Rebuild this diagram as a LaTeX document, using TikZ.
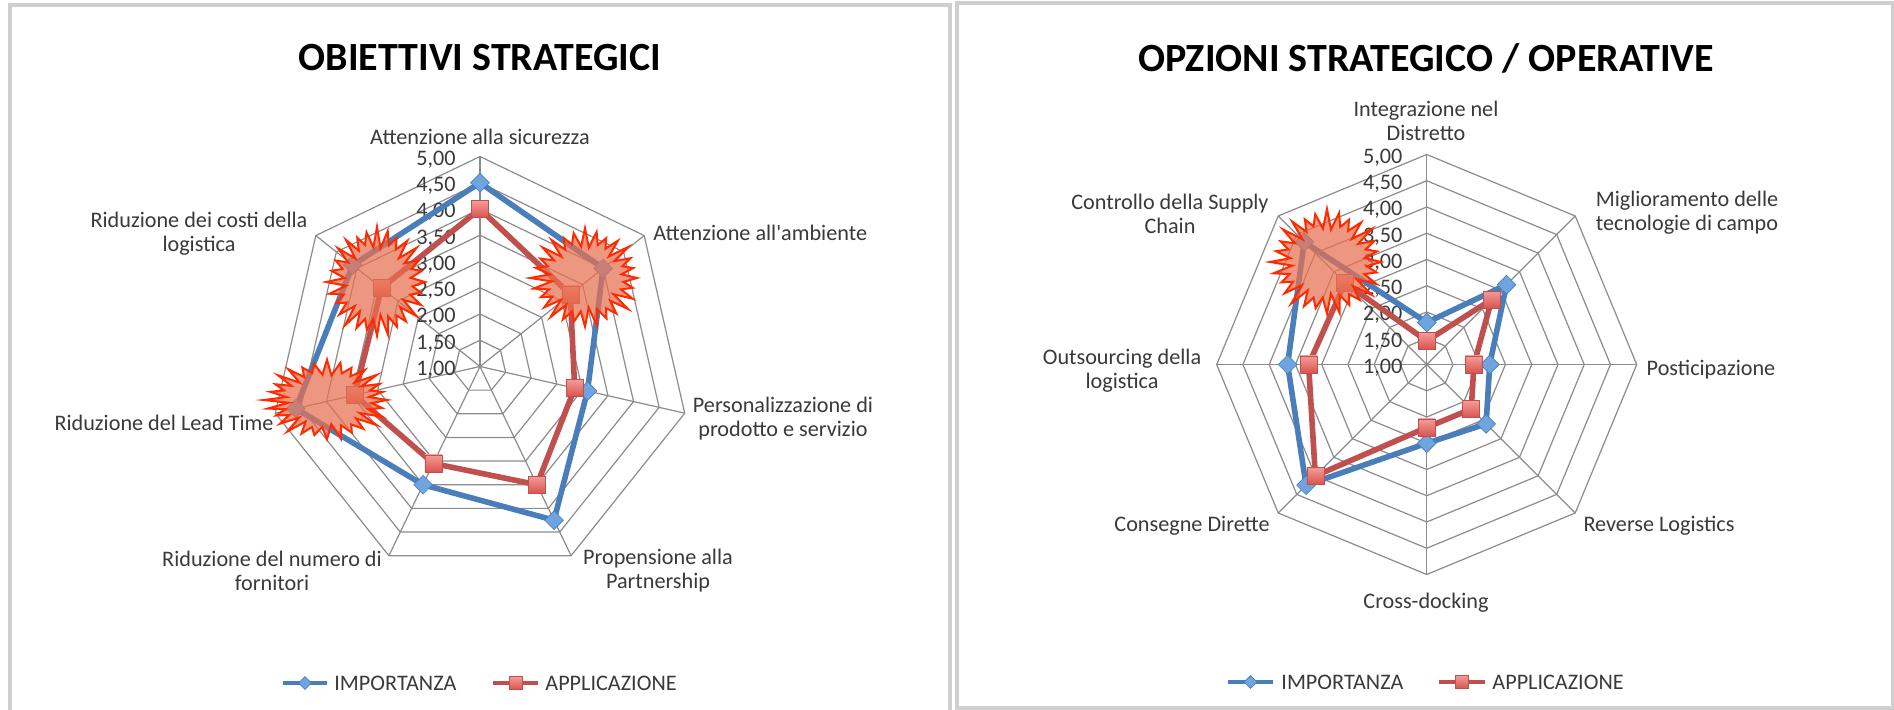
\documentclass[tikz,border=0pt]{standalone}
\usepackage{fontspec}
\newfontfamily\calibrifont{Carlito}
\usetikzlibrary{calc,shapes.geometric}

\definecolor{impblue}{HTML}{4A7EBB}
\definecolor{impfill}{HTML}{6FA5DE}
\definecolor{appred}{HTML}{C0504D}
\definecolor{apptop}{HTML}{F39C98}
\definecolor{appbottom}{HTML}{D9534F}
\definecolor{gridgray}{HTML}{8C8C8C}
\definecolor{labelgray}{HTML}{3A3A3A}
\definecolor{framegray}{HTML}{CFCFCF}
\definecolor{burstred}{HTML}{FF2A00}
\definecolor{burstfill}{HTML}{E8704F}

\tikzset{
  gridline/.style={draw=gridgray, line width=0.6pt},
  impline/.style={draw=impblue, line width=2.8pt, line join=round},
  appline/.style={draw=appred, line width=2.8pt, line join=round},
  impmark/.style={diamond, draw=impblue, line width=0.3pt, fill=impfill,
    inner sep=0pt, minimum width=9.5pt, minimum height=9.5pt},
  appmark/.style={rectangle, draw=appred, line width=0.3pt,
    top color=apptop, bottom color=appbottom, inner sep=0pt, minimum size=8.5pt},
  legimp/.style={impmark, minimum width=6.5pt, minimum height=6.5pt},
  legapp/.style={appmark, minimum size=6.5pt},
  legline/.style={line width=1.6pt},
  axislabel/.style={font=\calibrifont\fontsize{11.1}{12}\selectfont,
    text=labelgray, align=center, inner sep=0pt},
  scalelabel/.style={axislabel, anchor=east},
  legtext/.style={axislabel, anchor=west},
  charttitle/.style={font=\calibrifont\fontsize{20}{24}\selectfont\bfseries,
    text=black, inner sep=0pt},
  panelframe/.style={draw=framegray, line width=2pt},
  burst/.style={draw=burstred, line width=1pt, fill=burstfill,
    fill opacity=0.72, line join=miter, miter limit=20},
}

% jagged highlight burst: centre x, centre y, x radius, y radius (56 vertices)
\newcommand\burstat[4]{%
  \draw[burst] plot[samples at={0,...,55}, variable=\t]
    ({#1+#3*(1-0.3*mod(\t,2)+0.06*sin(\t*131))*cos(\t*6.428571)},
     {#2+#4*(1-0.3*mod(\t,2)+0.06*sin(\t*131))*sin(\t*6.428571)}) -- cycle;}

\begin{document}
\begin{tikzpicture}[x=0.5pt, y=-0.5pt]
\useasboundingbox (0,0) rectangle (1894,710);
\fill[white] (0,0) rectangle (1894,710);

% panel frames
\draw[panelframe] (10,716) -- (10,5.5) -- (949.5,5.5) -- (949.5,716);
\draw[panelframe] (956.5,3.5) rectangle (1893,708);

% ---------------- left chart: 7 axes ----------------
\coordinate (L) at (480,366.5);
\foreach \j in {1,...,8}{
  \draw[gridline] ($(L)+(-90:{26.25*\j})$)
    \foreach \k in {1,...,6}{ -- ($(L)+({-90+\k*360/7}:{26.25*\j})$) } -- cycle;
}
\foreach \k in {0,...,6}
  \draw[gridline] (L) -- ($(L)+({-90+\k*360/7}:210)$);

\foreach \j/\t in {0/{1,00},1/{1,50},2/{2,00},3/{2,50},4/{3,00},5/{3,50},6/{4,00},7/{4,50},8/{5,00}}
  \node[scalelabel] (Ls\j) at ($(L)+(-24,{-26.25*\j+3})$) {\t};

\foreach \v [count=\k from 0] in {4.5,4.0,3.1,4.25,3.5,4.6,4.1}
  \coordinate (LI\k) at ($(L)+({-90+\k*360/7}:{52.5*(\v-1)})$);
\foreach \v [count=\k from 0] in {4.0,3.2,2.85,3.5,3.05,3.45,3.4}
  \coordinate (LA\k) at ($(L)+({-90+\k*360/7}:{52.5*(\v-1)})$);

\draw[impline] (LI0) \foreach \k in {1,...,6}{ -- (LI\k) } -- cycle;
\foreach \k in {0,...,6} \node[impmark] (LIm\k) at (LI\k) {};
\draw[appline] (LA0) \foreach \k in {1,...,6}{ -- (LA\k) } -- cycle;
\foreach \k in {0,...,6} \node[appmark] (LAm\k) at (LA\k) {};

\node[charttitle] (Ltitle) at (480,58) {OBIETTIVI STRATEGICI};
\node[axislabel] (Lax0) at (480,136.5) {Attenzione alla sicurezza};
\node[axislabel, anchor=west] (Lax1) at (653,233) {Attenzione all'ambiente};
\node[axislabel] (Lax2) at (783,419) {Personalizzazione di\\prodotto e servizio};
\node[axislabel] (Lax3) at (658,571) {Propensione alla\\Partnership};
\node[axislabel] (Lax4) at (272,571) {Riduzione del numero di\\fornitori};
\node[axislabel] (Lax5) at (164,423) {Riduzione del Lead Time};
\node[axislabel] (Lax6) at (199,234) {Riduzione dei costi della\\logistica};

% legend
\draw[impblue, legline] (283,683) -- (327,683);
\node[legimp] (Llm1) at (305,683) {};
\node[legtext] (Llt1) at (334,683) {IMPORTANZA};
\draw[appred, legline] (493,683) -- (538,683);
\node[legapp] (Llm2) at (515.5,683) {};
\node[legtext] (Llt2) at (545,683) {APPLICAZIONE};

% ---------------- right chart: 8 axes ----------------
\coordinate (R) at (1426.7,364.5);
\foreach \j in {1,...,8}{
  \draw[gridline] ($(R)+(-90:{26.25*\j})$)
    \foreach \k in {1,...,7}{ -- ($(R)+({-90+\k*45}:{26.25*\j})$) } -- cycle;
}
\foreach \k in {0,...,7}
  \draw[gridline] (R) -- ($(R)+({-90+\k*45}:210)$);

\foreach \j/\t in {0/{1,00},1/{1,50},2/{2,00},3/{2,50},4/{3,00},5/{3,50},6/{4,00},7/{4,50},8/{5,00}}
  \node[scalelabel] (Rs\j) at ($(R)+(-24,{-26.25*\j+3})$) {\t};

\foreach \v [count=\k from 0] in {1.8,3.15,2.2,2.6,2.5,4.25,3.65,4.3}
  \coordinate (RI\k) at ($(R)+({-90+\k*45}:{52.5*(\v-1)})$);
\foreach \v [count=\k from 0] in {1.45,2.75,1.9,2.2,2.2,4.0,3.25,3.2}
  \coordinate (RA\k) at ($(R)+({-90+\k*45}:{52.5*(\v-1)})$);

\draw[impline] (RI0) \foreach \k in {1,...,7}{ -- (RI\k) } -- cycle;
\foreach \k in {0,...,7} \node[impmark] (RIm\k) at (RI\k) {};
\draw[appline] (RA0) \foreach \k in {1,...,7}{ -- (RA\k) } -- cycle;
\foreach \k in {0,...,7} \node[appmark] (RAm\k) at (RA\k) {};

\node[charttitle] (Rtitle) at (1426,58) {OPZIONI STRATEGICO / OPERATIVE};
\node[axislabel] (Rax0) at (1426,121) {Integrazione nel\\Distretto};
\node[axislabel] (Rax1) at (1687,212.5) {Miglioramento delle\\tecnologie di campo};
\node[axislabel] (Rax2) at (1711,370) {Posticipazione};
\node[axislabel] (Rax3) at (1659,525.5) {Reverse Logistics};
\node[axislabel] (Rax4) at (1426,603) {Cross-docking};
\node[axislabel] (Rax5) at (1192,525.5) {Consegne Dirette};
\node[axislabel] (Rax6) at (1122,371) {Outsourcing della\\logistica};
\node[axislabel] (Rax7) at (1170,214) {Controllo della Supply\\Chain};

% legend
\draw[impblue, legline] (1228,682) -- (1273,682);
\node[legimp] (Rlm1) at (1250.5,682) {};
\node[legtext] (Rlt1) at (1281,682) {IMPORTANZA};
\draw[appred, legline] (1439,682) -- (1485,682);
\node[legapp] (Rlm2) at (1462,682) {};
\node[legtext] (Rlt2) at (1492,682) {APPLICAZIONE};

% ---------------- highlight bursts ----------------
\burstat{377}{282}{48}{52}
\burstat{585}{278}{52}{47}
\burstat{327}{400}{60}{38}
\burstat{1327}{262}{54}{50}
\end{tikzpicture}
\end{document}
